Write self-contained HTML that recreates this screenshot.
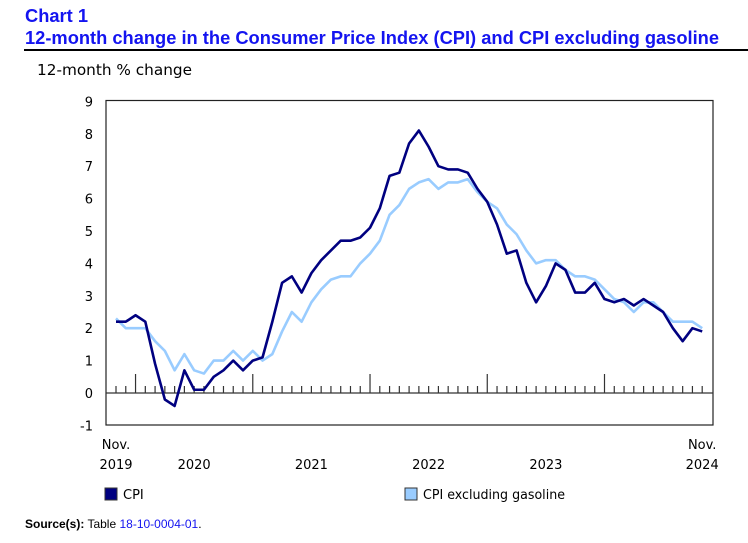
<!DOCTYPE html>
<html><head><meta charset="utf-8"><style>
body{margin:0;background:#fff;width:748px;height:539px;overflow:hidden;font-family:"DejaVu Sans","Liberation Sans",sans-serif}
</style></head><body>
<svg id="chart" width="748" height="539" xmlns="http://www.w3.org/2000/svg">
<text x="25" y="22" font-family="Liberation Sans, sans-serif" font-weight="bold" font-size="18.3" fill="#1414f0">Chart 1</text>
<text x="25" y="44" font-family="Liberation Sans, sans-serif" font-weight="bold" font-size="18.3" fill="#1414f0" textLength="694" lengthAdjust="spacingAndGlyphs">12-month change in the Consumer Price Index (CPI) and CPI excluding gasoline</text>
<line x1="24" y1="50" x2="748" y2="50" stroke="#000" stroke-width="2"/>
<text x="37" y="75" font-size="15" fill="#000" textLength="155" lengthAdjust="spacingAndGlyphs">12-month % change</text>
<rect x="106" y="100.5" width="607" height="324.5" fill="none" stroke="#222" stroke-width="1.2"/>
<g id="ticks"></g><g id="lines"></g>
<rect x="105" y="488" width="12" height="12" fill="#000080" stroke="#333"/>
<text x="123" y="499" font-size="13">CPI</text>
<rect x="405" y="488" width="12" height="12" fill="#99ccff" stroke="#333"/>
<text x="423" y="499" font-size="13" textLength="142" lengthAdjust="spacingAndGlyphs">CPI excluding gasoline</text>
<text x="25" y="528" font-family="Liberation Sans, sans-serif" font-size="12"><tspan font-weight="bold">Source(s):</tspan> Table <tspan fill="#1414f0">18-10-0004-01</tspan>.</text>
</svg>
<script>
const yTicks=[9,8,7,6,5,4,3,2,1,0,-1];
const cpi=[2.2,2.2,2.4,2.2,0.9,-0.2,-0.4,0.7,0.1,0.1,0.5,0.7,1.0,0.7,1.0,1.1,2.2,3.4,3.6,3.1,3.7,4.1,4.4,4.7,4.7,4.8,5.1,5.7,6.7,6.8,7.7,8.1,7.6,7.0,6.9,6.9,6.8,6.3,5.9,5.2,4.3,4.4,3.4,2.8,3.3,4.0,3.8,3.1,3.1,3.4,2.9,2.8,2.9,2.7,2.9,2.7,2.5,2.0,1.6,2.0,1.9];
const cpiExGas=[2.3,2.0,2.0,2.0,1.6,1.3,0.7,1.2,0.7,0.6,1.0,1.0,1.3,1.0,1.3,1.0,1.2,1.9,2.5,2.2,2.8,3.2,3.5,3.6,3.6,4.0,4.3,4.7,5.5,5.8,6.3,6.5,6.6,6.3,6.5,6.5,6.6,6.2,5.9,5.7,5.2,4.9,4.4,4.0,4.1,4.1,3.8,3.6,3.6,3.5,3.2,2.9,2.8,2.5,2.8,2.8,2.5,2.2,2.2,2.2,2.0];
const yearLabels=["2020","2021","2022","2023"];
const NS="http://www.w3.org/2000/svg";
const svg=document.getElementById('chart');
const x0=116,dx=9.77;
function xs(i){return x0+i*dx;}
function ys(v){return 393-v*32.4;}
function el(t,a,p){const e=document.createElementNS(NS,t);for(const k in a)e.setAttribute(k,a[k]);(p||svg).appendChild(e);return e;}
const tk=document.getElementById('ticks');
yTicks.forEach(v=>{const t=el('text',{x:93,y:ys(v)+5,'text-anchor':'end','font-size':13},tk);t.textContent=v;

});
const z=el('line',{x1:106,x2:713,y1:ys(0),y2:ys(0),stroke:'#333','stroke-width':1.3},tk);


for(let i=0;i<cpi.length;i++){const major=(i-2)%12===0;
const l=el('line',{x1:xs(i),x2:xs(i),y1:ys(0),y2:ys(0)-(major?19:7),stroke:'#333','stroke-width':1.2},tk);

}
function lab(x,y,s,n){const t=el('text',{x:x,y:y,'text-anchor':'middle','font-size':13},tk);t.textContent=s;

}
lab(xs(0),449,'Nov.','x-start-month');lab(xs(0),469,'2019','x-start-year');
lab(xs(60),449,'Nov.','x-end-month');lab(xs(60),469,'2024','x-end-year');
yearLabels.forEach((s,k)=>{lab(xs(8+12*k),469,s,'x-year-label');});
const lg=document.getElementById('lines');
function line(d,c,n){const p=el('polyline',{points:d.map((v,i)=>xs(i)+','+ys(v)).join(' '),fill:'none',stroke:c,'stroke-width':2.6,'stroke-linejoin':'round'},lg);

}
line(cpiExGas,'#99ccff','cpi-ex-gasoline-line');
line(cpi,'#000080','cpi-line');
</script>
</body></html>
